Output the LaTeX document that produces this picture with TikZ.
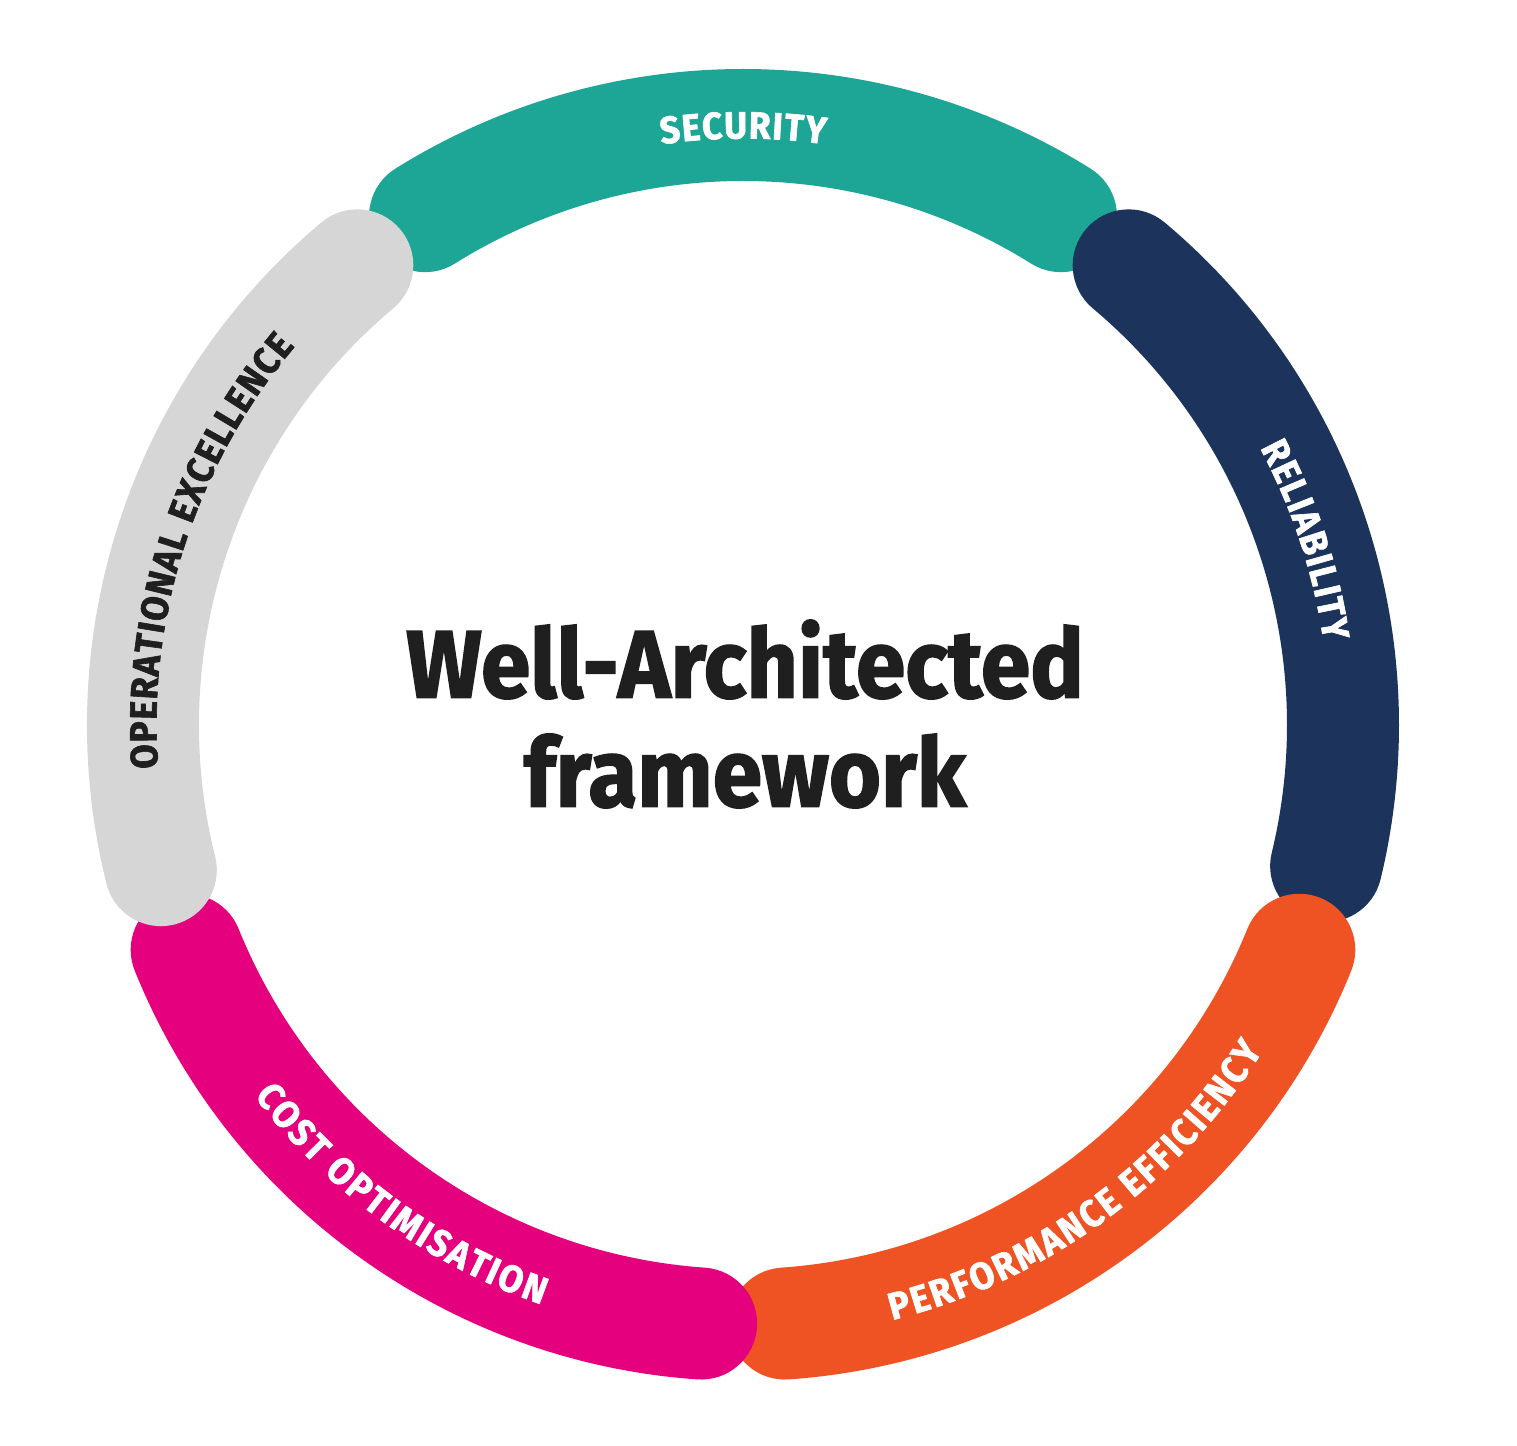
\documentclass[tikz,border=0pt]{standalone}
\usepackage{fontspec}
\setmainfont{Fira Sans}
\newfontfamily\heavyfont{Fira Sans}[FakeStretch=0.93, BoldFeatures={FakeBold=1.6}]
\definecolor{wafTeal}{HTML}{1DA595}
\definecolor{wafNavy}{HTML}{1C345C}
\definecolor{wafOrange}{HTML}{F05323}
\definecolor{wafMagenta}{HTML}{E5007E}
\definecolor{wafGrey}{HTML}{D6D6D6}
\colorlet{wafInk}{black!88}
\usetikzlibrary{decorations.text}

\tikzset{
  pillar/.style={line cap=round, line width=11.2em},
  pillarlabel/.style 2 args={postaction={decorate, decoration={text effects along path,
      text={#1}, text align=center, raise=-1.35em,
      text effects/.cd, text along path,
      characters={font=\heavyfont\bfseries\fontsize{38}{38}\selectfont, text=#2, inner xsep=0.09em},
      character widths={font=\heavyfont\bfseries\fontsize{38}{38}\selectfont, inner xsep=0.09em}}}},
}

\begin{document}
\begin{tikzpicture}
  \useasboundingbox (-74.3em,-72em) rectangle (77.4em,72.5em);

  \draw[pillar, wafTeal, pillarlabel={SECURITY}{white}] (122:60em) arc[start angle=122, end angle=58, radius=60em];
  \draw[pillar, wafNavy, pillarlabel={RELIABILITY}{white}] (50:60em) arc[start angle=50, end angle=-13.6, radius=60em];
  \draw[pillar, wafOrange, pillarlabel={PERFORMANCE EFFICIENCY}{white}] (-86:60em) arc[start angle=-86, end angle=-22, radius=60em];
  \draw[pillar, wafMagenta, pillarlabel={COST OPTIMISATION}{white}] (202:60em) arc[start angle=202, end angle=266, radius=60em];
  \draw[pillar, wafGrey, pillarlabel={OPERATIONAL EXCELLENCE}{wafInk}] (194:60em) arc[start angle=194, end angle=130, radius=60em];

  \node[wafInk, align=center, font=\heavyfont\bfseries\fontsize{96}{109}\selectfont] (title) at (0.2em, 1.1em) {Well-Architected\\framework};
\end{tikzpicture}
\end{document}
